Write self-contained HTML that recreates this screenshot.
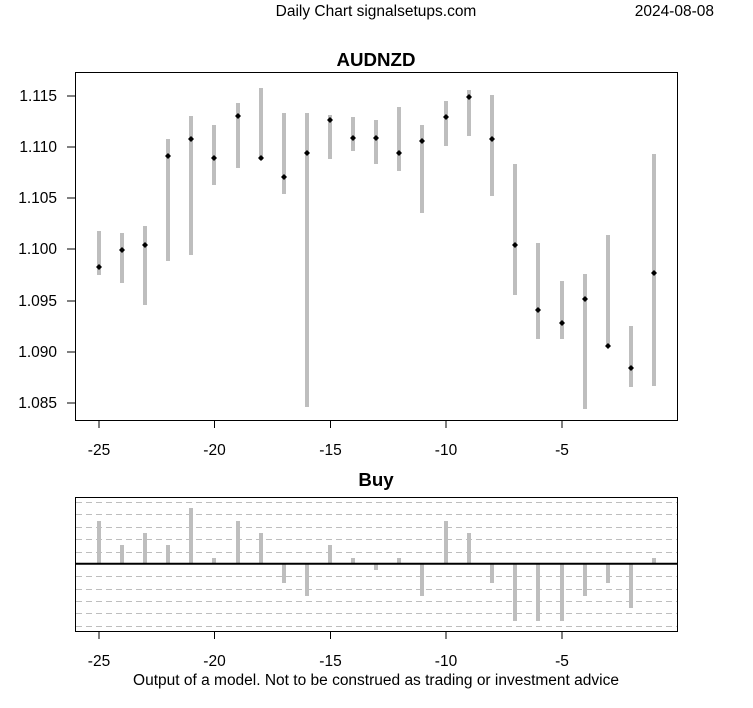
<!DOCTYPE html>
<html><head><style>body{margin:0;background:#fff}svg{display:block}text{font-family:"Liberation Sans",Arial,sans-serif}</style></head>
<body>
<svg width="753" height="708" xmlns="http://www.w3.org/2000/svg">
<text x="376" y="16" font-size="15.5" text-anchor="middle">Daily Chart signalsetups.com</text>
<text x="714" y="16" font-size="15.5" text-anchor="end">2024-08-08</text>
<text x="376" y="66" font-size="18.7" font-weight="bold" text-anchor="middle">AUDNZD</text>
<text x="376" y="486" font-size="18.7" font-weight="bold" text-anchor="middle">Buy</text>
<rect x="75.5" y="72.5" width="602" height="348" fill="none" stroke="#000"/>
<g font-size="15.5" text-anchor="end" stroke="none">
<text x="57" y="101">1.115</text><text x="57" y="152">1.110</text><text x="57" y="203">1.105</text><text x="57" y="254">1.100</text><text x="57" y="306">1.095</text><text x="57" y="357">1.090</text><text x="57" y="408">1.085</text>
</g>
<g stroke="#000"><line x1="67" x2="75" y1="96" y2="96"/><line x1="67" x2="75" y1="147" y2="147"/><line x1="67" x2="75" y1="198" y2="198"/><line x1="67" x2="75" y1="249" y2="249"/><line x1="67" x2="75" y1="301" y2="301"/><line x1="67" x2="75" y1="352" y2="352"/><line x1="67" x2="75" y1="403" y2="403"/></g>
<g stroke="#000">
<line x1="99" x2="99" y1="421" y2="428"/><line x1="214.5" x2="214.5" y1="421" y2="428"/><line x1="330.5" x2="330.5" y1="421" y2="428"/><line x1="446" x2="446" y1="421" y2="428"/><line x1="562" x2="562" y1="421" y2="428"/>
<line x1="99" x2="99" y1="632" y2="639"/><line x1="214.5" x2="214.5" y1="632" y2="639"/><line x1="330.5" x2="330.5" y1="632" y2="639"/><line x1="446" x2="446" y1="632" y2="639"/><line x1="562" x2="562" y1="632" y2="639"/>
</g>
<g font-size="15.5" text-anchor="middle">
<text x="99" y="455">-25</text><text x="214.5" y="455">-20</text><text x="330.5" y="455">-15</text><text x="446" y="455">-10</text><text x="562" y="455">-5</text>
<text x="99" y="666">-25</text><text x="214.5" y="666">-20</text><text x="330.5" y="666">-15</text><text x="446" y="666">-10</text><text x="562" y="666">-5</text>
<text x="376" y="685">Output of a model. Not to be construed as trading or investment advice</text>
</g>
<g stroke="#bebebe" stroke-width="4">
<line x1="99" x2="99" y1="231" y2="275"/><line x1="122" x2="122" y1="233" y2="283"/><line x1="145" x2="145" y1="226" y2="305"/><line x1="168" x2="168" y1="139" y2="261"/><line x1="191" x2="191" y1="116" y2="255"/><line x1="214" x2="214" y1="125" y2="185"/><line x1="238" x2="238" y1="103" y2="168"/><line x1="261" x2="261" y1="88" y2="160"/><line x1="284" x2="284" y1="113" y2="194"/><line x1="307" x2="307" y1="113" y2="407"/><line x1="330" x2="330" y1="115" y2="159"/><line x1="353" x2="353" y1="117" y2="151"/><line x1="376" x2="376" y1="120" y2="164"/><line x1="399" x2="399" y1="107" y2="171"/><line x1="422" x2="422" y1="125" y2="213"/><line x1="446" x2="446" y1="101" y2="146"/><line x1="469" x2="469" y1="90" y2="136"/><line x1="492" x2="492" y1="95" y2="196"/><line x1="515" x2="515" y1="164" y2="295"/><line x1="538" x2="538" y1="243" y2="339"/><line x1="562" x2="562" y1="281" y2="339"/><line x1="585" x2="585" y1="274" y2="409"/><line x1="608" x2="608" y1="235" y2="347"/><line x1="631" x2="631" y1="326" y2="387"/><line x1="654" x2="654" y1="154" y2="386"/>
</g>
<g fill="#000">
<path d="M96 267l3-3 3 3-3 3z"/><path d="M119 250l3-3 3 3-3 3z"/><path d="M142 245l3-3 3 3-3 3z"/><path d="M165 156l3-3 3 3-3 3z"/><path d="M188 139l3-3 3 3-3 3z"/><path d="M211 158l3-3 3 3-3 3z"/><path d="M235 116l3-3 3 3-3 3z"/><path d="M258 158l3-3 3 3-3 3z"/><path d="M281 177l3-3 3 3-3 3z"/><path d="M304 153l3-3 3 3-3 3z"/><path d="M327 120l3-3 3 3-3 3z"/><path d="M350 138l3-3 3 3-3 3z"/><path d="M373 138l3-3 3 3-3 3z"/><path d="M396 153l3-3 3 3-3 3z"/><path d="M419 141l3-3 3 3-3 3z"/><path d="M443 117l3-3 3 3-3 3z"/><path d="M466 97l3-3 3 3-3 3z"/><path d="M489 139l3-3 3 3-3 3z"/><path d="M512 245l3-3 3 3-3 3z"/><path d="M535 310l3-3 3 3-3 3z"/><path d="M559 323l3-3 3 3-3 3z"/><path d="M582 299l3-3 3 3-3 3z"/><path d="M605 346l3-3 3 3-3 3z"/><path d="M628 368l3-3 3 3-3 3z"/><path d="M651 273l3-3 3 3-3 3z"/>
</g>
<g stroke="#bebebe" stroke-dasharray="6,4">
<line x1="76" x2="677" y1="502.5" y2="502.5"/><line x1="76" x2="677" y1="514.5" y2="514.5"/><line x1="76" x2="677" y1="527.5" y2="527.5"/><line x1="76" x2="677" y1="539.5" y2="539.5"/><line x1="76" x2="677" y1="552.5" y2="552.5"/><line x1="76" x2="677" y1="576.5" y2="576.5"/><line x1="76" x2="677" y1="589.5" y2="589.5"/><line x1="76" x2="677" y1="601.5" y2="601.5"/><line x1="76" x2="677" y1="613.5" y2="613.5"/><line x1="76" x2="677" y1="626.5" y2="626.5"/>
</g>
<g stroke="#bebebe" stroke-width="4">
<line x1="99" x2="99" y1="521" y2="564"/><line x1="122" x2="122" y1="545" y2="564"/><line x1="145" x2="145" y1="533" y2="564"/><line x1="168" x2="168" y1="545" y2="564"/><line x1="191" x2="191" y1="508" y2="564"/><line x1="214" x2="214" y1="558" y2="564"/><line x1="238" x2="238" y1="521" y2="564"/><line x1="261" x2="261" y1="533" y2="564"/><line x1="284" x2="284" y1="564" y2="583"/><line x1="307" x2="307" y1="564" y2="596"/><line x1="330" x2="330" y1="545" y2="564"/><line x1="353" x2="353" y1="558" y2="564"/><line x1="376" x2="376" y1="564" y2="570"/><line x1="399" x2="399" y1="558" y2="564"/><line x1="422" x2="422" y1="564" y2="596"/><line x1="446" x2="446" y1="521" y2="564"/><line x1="469" x2="469" y1="533" y2="564"/><line x1="492" x2="492" y1="564" y2="583"/><line x1="515" x2="515" y1="564" y2="621"/><line x1="538" x2="538" y1="564" y2="621"/><line x1="562" x2="562" y1="564" y2="621"/><line x1="585" x2="585" y1="564" y2="596"/><line x1="608" x2="608" y1="564" y2="583"/><line x1="631" x2="631" y1="564" y2="608"/><line x1="654" x2="654" y1="558" y2="564"/>
</g>
<line x1="76" x2="677" y1="563.7" y2="563.7" stroke="#000" stroke-width="2"/>
<rect x="75.5" y="497.5" width="602" height="134" fill="none" stroke="#000"/>
</svg>
</body></html>
